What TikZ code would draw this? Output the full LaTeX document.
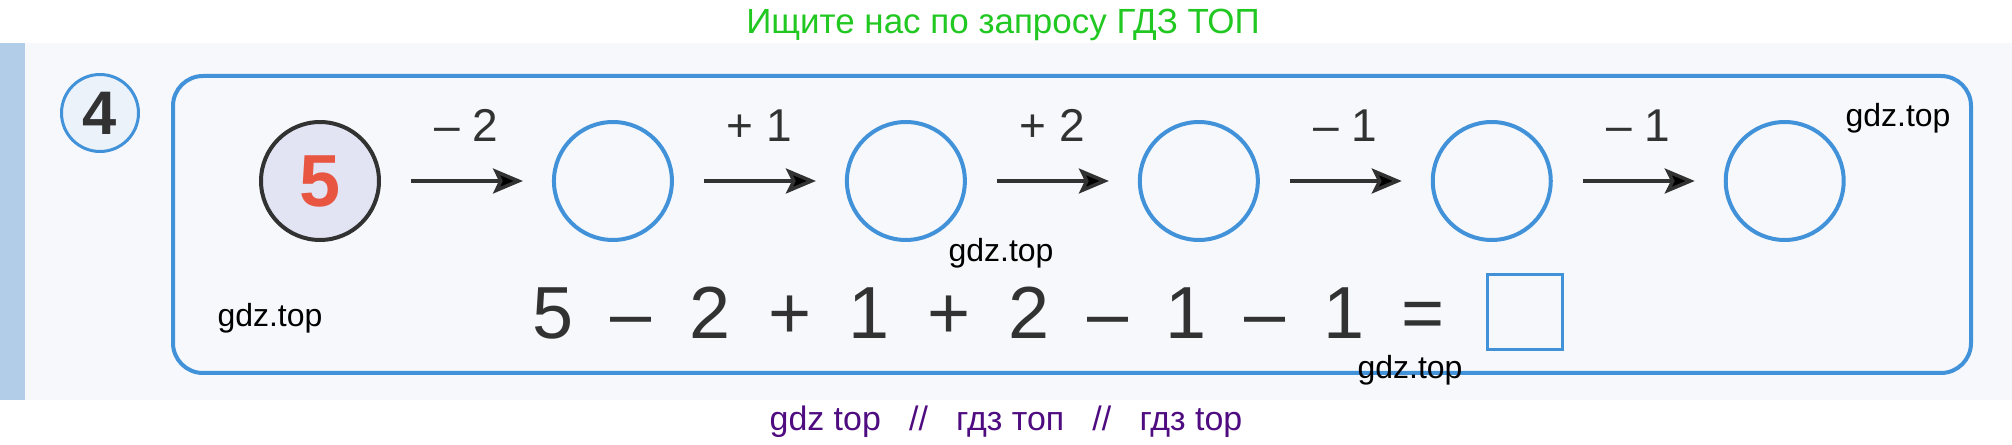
\documentclass[tikz,border=0pt]{standalone}
\usepackage{amsmath}
\usepackage{xcolor}
\usepackage{tikz}
\usepackage{fontspec}
\setmainfont{Liberation Sans}
\usetikzlibrary{arrows,arrows.meta,positioning,calc}

\definecolor{bookblue}{RGB}{66,146,218}
\definecolor{inkgray}{RGB}{50,50,50}
\definecolor{lavender}{RGB}{226,228,244}
\definecolor{numred}{RGB}{232,86,66}
\definecolor{adgreen}{RGB}{34,200,34}
\definecolor{adpurple}{RGB}{78,12,128}
\definecolor{scanbg}{RGB}{246,248,251}
\definecolor{stripblue}{RGB}{178,205,232}
\definecolor{badgefill}{RGB}{236,242,250}

\begin{document}
\begin{tikzpicture}[x=0.02cm, y=-0.02cm, node distance=5.86cm,
		numcirc/.style={circle, draw=bookblue, line width=0.08cm, minimum size=2.36cm, inner sep=0},
		oplabel/.style={above=0.76cm, inner sep=0, text=inkgray, font=\fontsize{26.2}{30}\selectfont},
		steparrow/.style={-{Stealth[length=0.6cm, width=0.5cm, inset=0.12cm]}, line width=0.07cm, draw=inkgray, shorten <=0.6cm, shorten >=0.58cm},
		wmark/.style={inner sep=0, font=\fontsize{18.2}{22}\selectfont}]
		\useasboundingbox (0,0) rectangle (2012,445);
		% page scan
		\fill[scanbg] (0,43) rectangle (2012,400);
		\fill[stripblue] (0,43) rectangle (25,400);
		\draw[bookblue, line width=0.08cm, rounded corners=0.6cm] (173,76) rectangle (1971,373);
		\node at (100,113) [circle, draw=bookblue, fill=badgefill, line width=0.06cm, minimum size=1.54cm, inner sep=0, text=inkgray, font=\bfseries\fontsize{35}{40}\selectfont] (num) {4};
		% chain of circles
		\node at (320,181) [numcirc, draw=inkgray, fill=lavender, text=numred, font=\bfseries\fontsize{42}{48}\selectfont] (five) {5};
		\node[numcirc] (c1) [right of=five] {};
		\node[numcirc] (c2) [right of=c1] {};
		\node[numcirc] (c3) [right of=c2] {};
		\node[numcirc] (c4) [right of=c3] {};
		\node[numcirc] (c5) [right of=c4] {};
		\draw [steparrow] (five) edge node[oplabel] {– 2} (c1)
			(c1) edge node[oplabel] {+ 1} (c2)
			(c2) edge node[oplabel] {+ 2} (c3)
			(c3) edge node[oplabel] {– 1} (c4)
			(c4) edge node[oplabel] {– 1} (c5);
		% expression
		\node at (532,339) [anchor=base west, inner sep=0, text=inkgray, font=\fontsize{42}{48}\selectfont] (eq) {\spaceskip=0.51em\relax 5 – 2 + 1 + 2 – 1 – 1 =};
		\node at (1525,312) [draw=bookblue, line width=0.06cm, minimum size=1.5cm, inner sep=0] (ans) {};
		% watermarks
		\node at (1898,118) [wmark] (wm1) {gdz.top};
		\node at (1001,253) [wmark] (wm2) {gdz.top};
		\node at (270,318) [wmark] (wm3) {gdz.top};
		\node at (1410,370) [wmark] (wm4) {gdz.top};
		\node at (1003,34) [anchor=base, inner sep=0, text=adgreen, font=\fontsize{19.9}{24}\selectfont] (title) {Ищите нас по запросу ГДЗ ТОП};
		\node at (1006,431) [anchor=base, inner sep=0, text=adpurple, font=\fontsize{19.3}{23}\selectfont] (footer) {gdz top~~~//~~~гдз топ~~~//~~~гдз top};
\end{tikzpicture}
\end{document}
